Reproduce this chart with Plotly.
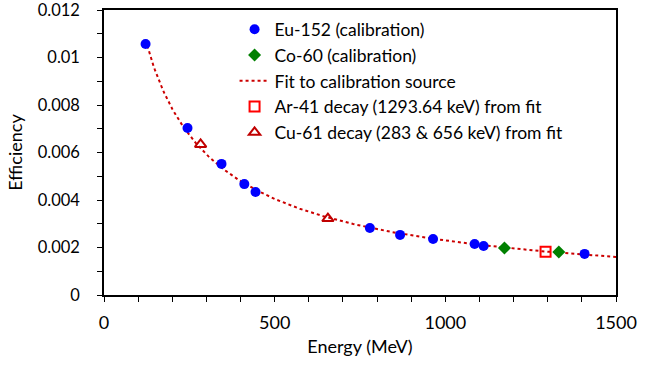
import numpy as np
import plotly.graph_objects as go

eu_energy = [121.78, 244.7, 344.28, 411.1, 443.96, 778.9, 867.4, 964.1, 1085.8, 1112.1, 1408.0]
eu_eff = [0.01057, 0.00703, 0.00552, 0.00467, 0.00434, 0.00282, 0.00253, 0.00236, 0.00215, 0.00206, 0.00173]
co_energy = [1173.2, 1332.5]
co_eff = [0.00198, 0.00181]
ar_energy = [1293.64]
ar_eff = [0.00182]
cu_energy = [283.0, 656.0]
cu_eff = [0.00634, 0.00322]

x_ticks = [0, 500, 1000, 1500]
y_ticks = [0, 0.002, 0.004, 0.006, 0.008, 0.01, 0.012]
y_ticktext = ["0", "0.002", "0.004", "0.006", "0.008", "0.01", "0.012"]

# fit: log-polynomial through calibration points
cal_e = np.array(eu_energy + co_energy)
cal_y = np.array(eu_eff + co_eff)
coef = np.polyfit(np.log(cal_e), np.log(cal_y), 2)
fit_e = np.linspace(min(eu_energy), 1500, 300)
fit_y = np.exp(np.polyval(coef, np.log(fit_e)))

font = "Lato, 'Open Sans', sans-serif"
fig = go.Figure()
fig.add_trace(go.Scatter(x=fit_e, y=fit_y, mode="lines", name="Fit to calibration source", legendrank=3,
                         line=dict(color="#CC0000", width=2, dash="dot")))
fig.add_trace(go.Scatter(x=eu_energy, y=eu_eff, mode="markers", name="Eu-152 (calibration)", legendrank=1,
                         marker=dict(symbol="circle", size=10, color="#0000FF")))
fig.add_trace(go.Scatter(x=co_energy, y=co_eff, mode="markers", name="Co-60 (calibration)", legendrank=2,
                         marker=dict(symbol="diamond", size=10, color="#008000")))
fig.add_trace(go.Scatter(x=ar_energy, y=ar_eff, mode="markers", name="Ar-41 decay (1293.64 keV) from fit", legendrank=4,
                         marker=dict(symbol="square-open", size=10, color="#FF0000", line=dict(width=2))))
fig.add_trace(go.Scatter(x=cu_energy, y=cu_eff, mode="markers", name="Cu-61 decay (283 & 656 keV) from fit", legendrank=5,
                         marker=dict(symbol="triangle-up-open", size=10, color="#C00000", line=dict(width=2))))

fig.update_layout(
    width=655, height=367,
    margin=dict(l=104, r=39, t=10, b=72, autoexpand=False),
    paper_bgcolor="white", plot_bgcolor="white",
    font=dict(family=font, size=18, color="#000000"),
    showlegend=True,
    legend=dict(x=0.255, y=0.995, xanchor="left", yanchor="top", bgcolor="rgba(0,0,0,0)",
                font=dict(size=17.5), traceorder="normal", itemwidth=30, tracegroupgap=0),
    xaxis=dict(range=[0, 1500], tickvals=x_ticks, showgrid=False, zeroline=False, automargin=False,
               showline=True, linecolor="#000", linewidth=1.5, mirror=True,
               ticks="outside", ticklen=5, tickcolor="#000", ticklabelstandoff=6,
               ticklabeloverflow="allow",
               minor=dict(dtick=100, ticks="outside", ticklen=5, tickcolor="#000", showgrid=False),
               title=dict(text="Energy (MeV)", font=dict(size=18), standoff=8)),
    yaxis=dict(range=[0, 0.012], tickvals=y_ticks, ticktext=y_ticktext, showgrid=False, zeroline=False,
               automargin=False, tickfont=dict(size=16.5),
               showline=True, linecolor="#000", linewidth=1.5, mirror=True,
               ticks="outside", ticklen=5, tickcolor="#000", ticklabelstandoff=14,
               ticklabeloverflow="allow",
               minor=dict(dtick=0.001, ticks="outside", ticklen=5, tickcolor="#000", showgrid=False),
               title=dict(text="Efficiency", font=dict(size=18), standoff=10)),
)

fig.write_html("out.html")
